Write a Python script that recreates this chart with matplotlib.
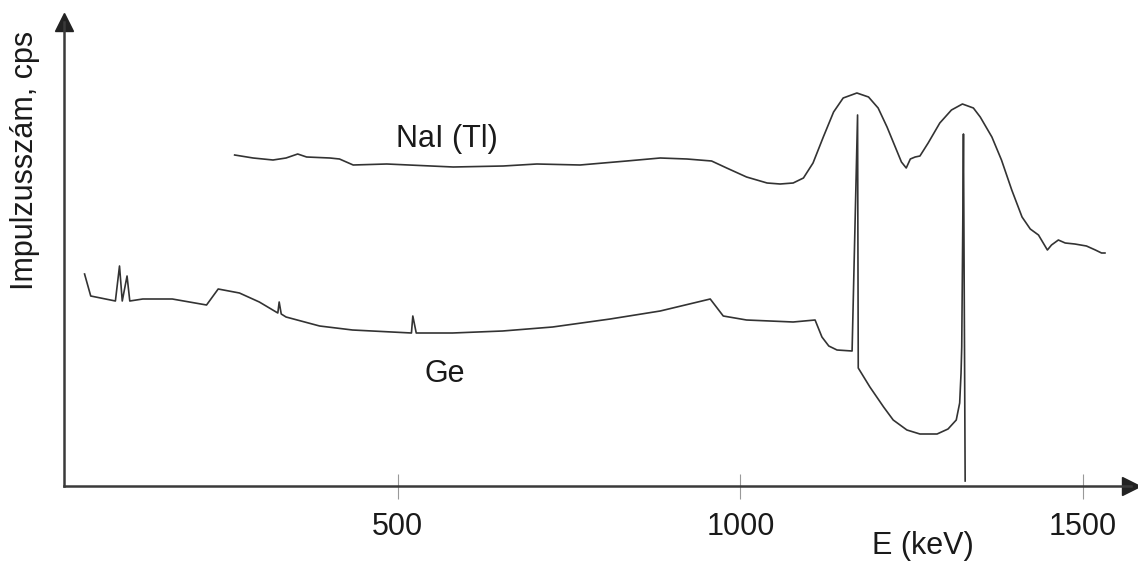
import matplotlib
matplotlib.use("Agg")
import matplotlib.pyplot as plt

plt.rcParams['font.family'] = ['Liberation Sans', 'DejaVu Sans']

# Ge detector spectrum (energy in keV, counts in arbitrary units)
ge_energy = [43, 52, 88, 94, 98, 105, 109, 128, 171, 221,
             238, 269, 298, 325, 327, 330, 337, 386, 434, 520,
             522, 527, 580, 653, 726, 810, 883, 956, 975, 1009,
             1077, 1109, 1119, 1129, 1141, 1163, 1171, 1172, 1189, 1209,
             1223, 1243, 1262, 1287, 1303, 1315, 1320, 1322, 1323, 1324.5,
             1325.5, 1328]
ge_counts = [213, 191, 186, 221, 186, 211, 186, 188, 188, 182,
             198, 194, 185, 174, 185, 173, 170, 161, 157, 154,
             171, 154, 154, 156, 160, 168, 176, 188, 171, 167,
             165, 167, 150, 141, 137, 136, 372, 119, 100, 80,
             67, 57, 53, 53, 58, 67, 84, 114, 140, 260,
             353, 6]

# NaI(Tl) detector spectrum
nai_energy = [262, 289, 318, 337, 354, 367, 401, 415, 435, 484,
              581, 654, 703, 766, 834, 883, 922, 958, 980, 1009,
              1039, 1058, 1077, 1092, 1106, 1121, 1136, 1150, 1170, 1187,
              1201, 1214, 1226, 1235, 1242, 1248, 1255, 1262, 1274, 1291,
              1308, 1324, 1340, 1350, 1367, 1381, 1396, 1411, 1423, 1435,
              1448, 1454, 1464, 1474, 1488, 1505, 1518, 1527, 1532]
nai_counts = [332, 329, 327, 329, 333, 330, 329, 328, 322, 323,
              320, 321, 323, 322, 326, 329, 328, 326, 319, 310,
              304, 303, 304, 309, 324, 350, 375, 389, 394, 390,
              379, 360, 340, 325, 319, 328, 330, 331, 344, 364,
              377, 383, 379, 370, 350, 327, 297, 270, 258, 252,
              237, 242, 247, 244, 243, 241, 237, 234, 234]

x_ticks = [500, 1000, 1500]

line_col = "#333333"
axis_col = "#3a3a3a"
text_col = "#1a1a1a"
fs = 22

fig = plt.figure(figsize=(11.38, 5.62), dpi=100)
ax = fig.add_axes([64 / 1138, 76 / 562, 1067 / 1138, 464 / 562])

ax.plot(ge_energy, ge_counts, color=line_col, linewidth=1.2, solid_joinstyle="round")
ax.plot(nai_energy, nai_counts, color=line_col, linewidth=1.2, solid_joinstyle="round")

ax.text(571, 340, "NaI (Tl)", ha="center", va="baseline", fontsize=fs, color=text_col)
ax.text(568, 105, "Ge", ha="center", va="baseline", fontsize=fs, color=text_col)

ax.set_xlim(13, 1570)
ax.set_ylim(1, 465)

# only the two axis lines with arrow heads
for side in ["top", "right"]:
    ax.spines[side].set_visible(False)
for side in ["left", "bottom"]:
    ax.spines[side].set_linewidth(1.8)
    ax.spines[side].set_color(axis_col)
ax.plot(0, 1, marker="^", ms=13, color="#222222", transform=ax.transAxes, clip_on=False)
ax.plot(1, 0, marker=">", ms=13, color="#222222", transform=ax.transAxes, clip_on=False)

ax.set_xticks(x_ticks)
ax.set_xticklabels([str(t) for t in x_ticks])
ax.tick_params(axis="x", direction="inout", length=18, width=0.8, color="#999999",
               labelsize=fs, labelcolor=text_col, pad=10)
ax.set_yticks([])

fig.text(923 / 1138, 8 / 562, "E (keV)", ha="center", va="baseline", fontsize=fs, color=text_col)
fig.text(25 / 1138, (562 - 160) / 562, "Impulzusszám, cps", rotation=90,
         ha="center", va="center", fontsize=fs, color=text_col)

fig.savefig("out.png", dpi=100)
